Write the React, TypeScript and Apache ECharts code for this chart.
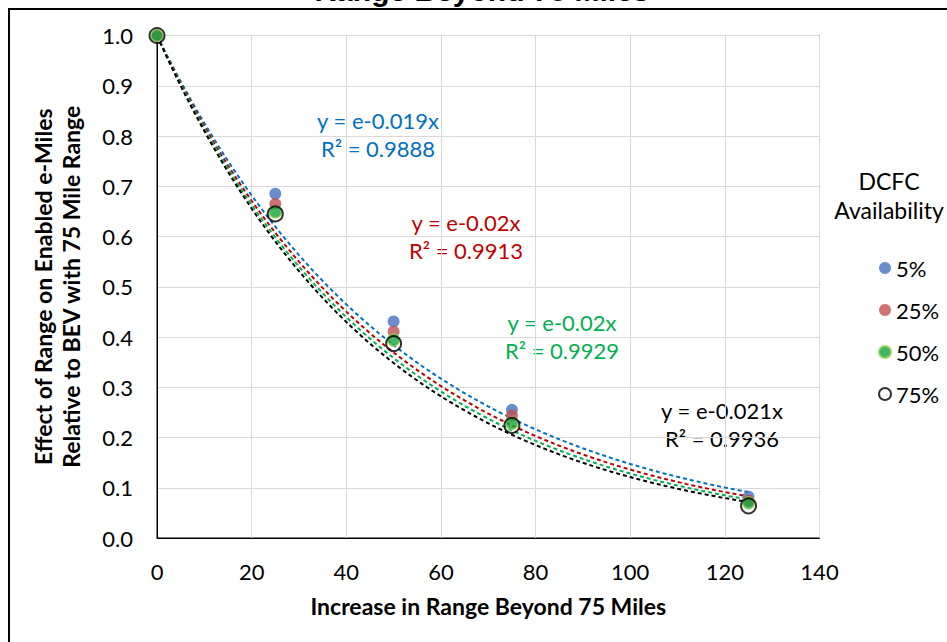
import React, { useEffect, useRef } from "react";
import * as echarts from "echarts";

// Data
const rangeIncrease = [0, 25, 50, 75, 125];
const dcfc5 = [1.0, 0.685, 0.431, 0.255, 0.082];
const dcfc25 = [1.0, 0.665, 0.411, 0.244, 0.074];
const dcfc50 = [1.0, 0.649, 0.394, 0.228, 0.07];
const dcfc75 = [1.0, 0.645, 0.387, 0.224, 0.064];
const seriesNames = ["5%", "25%", "50%", "75%"];
const equationTexts = ["y = e-0.019x", "y = e-0.02x", "y = e-0.02x", "y = e-0.021x"];
const r2Texts = ["R² = 0.9888", "R² = 0.9913", "R² = 0.9929", "R² = 0.9936"];
const titleText = "Range Beyond 75 Miles";
const xAxisTitle = "Increase in Range Beyond 75 Miles";
const yAxisTitle = "Effect of Range on Enabled e-Miles\nRelative to BEV with 75 Mile Range";
const legendTitle = "DCFC\nAvailability";

const FONT = "Lato, 'Open Sans', sans-serif";
const trendColors = ["#0070C0", "#C00000", "#00B050", "#000000"];

// Exponential least-squares fit with intercept fixed at 1 (y = e^(b x))
function fitRate(ys: number[]): number {
  let num = 0;
  let den = 0;
  rangeIncrease.forEach((x, i) => {
    num += x * Math.log(ys[i]);
    den += x * x;
  });
  return num / den;
}

function trendPoints(ys: number[]): number[][] {
  const b = fitRate(ys);
  const xMax = rangeIncrease[rangeIncrease.length - 1];
  const pts: number[][] = [];
  for (let x = 0; x <= xMax; x += 1) pts.push([x, Math.exp(b * x)]);
  return pts;
}

function pairs(ys: number[]): number[][] {
  return rangeIncrease.map((x, i) => [x, ys[i]]);
}

export default function App() {
  const ref = useRef<HTMLDivElement>(null);
  useEffect(() => {
    document.body.style.margin = "0";
    if (!ref.current) return;
    const chart = echarts.init(ref.current, undefined, { renderer: "svg" });
    const allSeries = [dcfc5, dcfc25, dcfc50, dcfc75];

    const trendSeries = allSeries.map((ys, i) => ({
      type: "line",
      name: "trend" + i,
      data: trendPoints(ys),
      showSymbol: false,
      silent: true,
      z: 2,
      lineStyle: { color: trendColors[i], width: 2, type: [4, 3] },
    }));

    const scatterStyles = [
      { color: "#4472C4" },
      { color: "#C0504D" },
      { color: "#13A53C", borderColor: "#92D050", borderWidth: 1.5 },
      { color: "rgba(0,0,0,0)", borderColor: "#000000", borderWidth: 2 },
    ];
    const scatterSizes = [12, 12, 12, 15];

    const scatterSeries = allSeries.map((ys, i) => ({
      type: "scatter",
      name: seriesNames[i],
      data: pairs(ys),
      symbol: "circle",
      symbolSize: scatterSizes[i],
      itemStyle: scatterStyles[i],
      z: 3 + i,
    }));

    const eqPos = [
      [378, 120, 148],
      [466, 222, 250],
      [562, 322, 350],
      [722, 410, 438],
    ];
    const eqGraphics: any[] = [];
    eqPos.forEach((p, i) => {
      eqGraphics.push({
        type: "text",
        x: p[0],
        y: p[1],
        style: {
          text: equationTexts[i],
          font: `22px ${FONT}`,
          fill: trendColors[i],
          align: "center",
          verticalAlign: "middle",
        },
      });
      eqGraphics.push({
        type: "text",
        x: p[0],
        y: p[2],
        style: {
          text: r2Texts[i],
          font: `22px ${FONT}`,
          fill: trendColors[i],
          align: "center",
          verticalAlign: "middle",
        },
      });
    });

    chart.setOption({
      animation: false,
      backgroundColor: "#ffffff",
      grid: {
        left: 157,
        right: 127.5,
        top: 35.5,
        bottom: 104,
        show: true,
        borderColor: "#000000",
        borderWidth: 1,
      },
      xAxis: {
        type: "value",
        min: 0,
        max: 140,
        interval: 20,
        name: xAxisTitle,
        nameLocation: "middle",
        nameGap: 56,
        nameTextStyle: { fontFamily: FONT, fontWeight: "bold", fontSize: 23, color: "#000" },
        axisLine: { lineStyle: { color: "#000", width: 1 } },
        axisTick: { show: false },
        axisLabel: { fontFamily: FONT, fontSize: 22, color: "#000", margin: 22 },
        splitLine: { lineStyle: { color: "#D9D9D9", width: 1 } },
      },
      yAxis: {
        type: "value",
        min: 0,
        max: 1,
        interval: 0.1,
        name: yAxisTitle,
        nameLocation: "middle",
        nameRotate: 90,
        nameGap: 72,
        nameTextStyle: { fontFamily: FONT, fontWeight: "bold", fontSize: 23, color: "#000", lineHeight: 28 },
        axisLine: { show: true, lineStyle: { color: "#000", width: 1 } },
        axisTick: { show: false },
        axisLabel: {
          fontFamily: FONT,
          fontSize: 22,
          color: "#000",
          margin: 24,
          formatter: (v: number) => v.toFixed(1),
        },
        splitLine: { lineStyle: { color: "#D9D9D9", width: 1 } },
      },
      legend: {
        data: seriesNames,
        orient: "vertical",
        left: 873,
        top: 252,
        itemWidth: 12,
        itemHeight: 12,
        itemGap: 20,
        icon: "circle",
        textStyle: { fontFamily: FONT, fontSize: 22, color: "#000" },
      },
      graphic: [
        {
          type: "rect",
          shape: { x: 9, y: 9, width: 1200, height: 1200 },
          style: { fill: "none", stroke: "#000", lineWidth: 2 },
          silent: true,
        },
        {
          type: "text",
          x: 482,
          y: 5,
          style: {
            text: titleText,
            font: "bold 30px 'Liberation Sans', Arial, sans-serif",
            fill: "#000",
            align: "center",
            verticalAlign: "bottom",
          },
        },
        {
          type: "text",
          x: 889,
          y: 195,
          style: {
            text: legendTitle,
            font: `23px ${FONT}`,
            lineHeight: 29,
            fill: "#000",
            align: "center",
            verticalAlign: "middle",
          },
        },
        ...eqGraphics,
      ],
      series: [...trendSeries, ...scatterSeries],
    });
    return () => chart.dispose();
  }, []);
  return <div ref={ref} style={{ width: 947, height: 642 }} />;
}
